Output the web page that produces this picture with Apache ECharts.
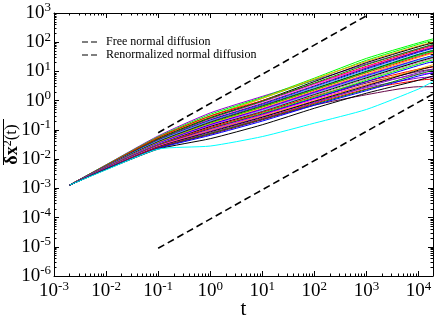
<!DOCTYPE html>
<html><head><meta charset="utf-8">
<script src="https://cdn.jsdelivr.net/npm/echarts@6/dist/echarts.min.js"></script>
<style>html,body{margin:0;padding:0;background:#fff}#c{width:436px;height:315px}</style>
</head><body><div id="c"></div>
<script>
// time points (x) shared by all trajectories
const times = [0.002, 0.01, 0.1, 1, 10, 100, 1000, 10000, 19000];
// mean squared displacement of each trajectory at those times
const traj01 = [0.0013, 0.0064, 0.062, 0.38, 1.4, 5.0, 18, 60, 80];
const traj02 = [0.0013, 0.0063, 0.058, 0.34, 1.3, 5.9, 28, 95, 130];
const traj03 = [0.0013, 0.0062, 0.055, 0.30, 1.2, 5.2, 24, 85, 115];
const traj04 = [0.0013, 0.0061, 0.052, 0.28, 1.2, 5.5, 22, 75, 100];
const traj05 = [0.0013, 0.0060, 0.050, 0.26, 1.0, 4.5, 20, 70, 95];
const traj06 = [0.0013, 0.0061, 0.055, 0.30, 1.0, 3.8, 15, 55, 75];
const traj07 = [0.0013, 0.0059, 0.047, 0.24, 0.9, 3.6, 14, 50, 70];
const traj08 = [0.0013, 0.0059, 0.048, 0.25, 0.95, 4.0, 17, 60, 85];
const traj09 = [0.0013, 0.0058, 0.045, 0.22, 0.8, 3.2, 13, 48, 65];
const traj10 = [0.0013, 0.0057, 0.043, 0.21, 0.75, 3.0, 12, 45, 62];
const traj11 = [0.0013, 0.0057, 0.042, 0.20, 0.7, 2.8, 11, 40, 55];
const traj12 = [0.0013, 0.0056, 0.040, 0.19, 0.7, 2.6, 10, 35, 48];
const traj13 = [0.0013, 0.0056, 0.039, 0.18, 0.65, 2.5, 10, 38, 52];
const traj14 = [0.0013, 0.0055, 0.037, 0.17, 0.6, 2.3, 9, 32, 45];
const traj15 = [0.0013, 0.0055, 0.037, 0.17, 0.62, 2.4, 9.5, 36, 50];
const traj16 = [0.0013, 0.0054, 0.036, 0.16, 0.55, 2.1, 8, 30, 42];
const traj17 = [0.0013, 0.0054, 0.035, 0.15, 0.52, 2.0, 7.5, 26, 34];
const traj18 = [0.0013, 0.0053, 0.034, 0.15, 0.5, 1.9, 7, 25, 35];
const traj19 = [0.0013, 0.0053, 0.033, 0.14, 0.48, 1.8, 6.5, 22, 30];
const traj20 = [0.0013, 0.0052, 0.032, 0.13, 0.45, 1.7, 6.5, 24, 33];
const traj21 = [0.0013, 0.0052, 0.031, 0.13, 0.42, 1.6, 6, 22, 30];
const traj22 = [0.0013, 0.0051, 0.030, 0.12, 0.40, 1.5, 5.5, 20, 28];
const traj23 = [0.0013, 0.0051, 0.030, 0.12, 0.40, 1.4, 4.5, 12, 14];
const traj24 = [0.0013, 0.0050, 0.029, 0.11, 0.37, 1.3, 5, 18, 25];
const traj25 = [0.0013, 0.0050, 0.029, 0.11, 0.35, 1.2, 4, 10, 12];
const traj26 = [0.0013, 0.0049, 0.028, 0.10, 0.33, 1.2, 4.5, 16, 22];
const traj27 = [0.0013, 0.0049, 0.028, 0.10, 0.32, 1.1, 3.5, 8, 9];
const traj28 = [0.0013, 0.0048, 0.027, 0.095, 0.30, 1.0, 3.5, 12, 17];
const traj29 = [0.0013, 0.0048, 0.026, 0.09, 0.28, 0.9, 2.8, 6, 6.5];
const traj30 = [0.0013, 0.0047, 0.026, 0.085, 0.27, 0.95, 3.2, 11, 15];
const traj31 = [0.0013, 0.0047, 0.025, 0.08, 0.25, 0.85, 3, 9, 12];
const traj32 = [0.0013, 0.0046, 0.025, 0.075, 0.24, 0.8, 2.5, 5, 5.5];
const traj33 = [0.0013, 0.0046, 0.024, 0.075, 0.23, 0.75, 2.4, 8, 11];
const traj34 = [0.0013, 0.0045, 0.024, 0.07, 0.22, 0.7, 1.6, 3, 3];
const traj35 = [0.0013, 0.0045, 0.023, 0.065, 0.2, 0.7, 2.2, 7, 9];
const traj36 = [0.0013, 0.0044, 0.022, 0.05, 0.15, 0.55, 1.8, 5, 7];
const traj37 = [0.0013, 0.0043, 0.022, 0.028, 0.059, 0.17, 0.5, 2.5, 4.5];
const trajectories = [traj01, traj02, traj03, traj04, traj05, traj06, traj07, traj08, traj09, traj10,
  traj11, traj12, traj13, traj14, traj15, traj16, traj17, traj18, traj19, traj20,
  traj21, traj22, traj23, traj24, traj25, traj26, traj27, traj28, traj29, traj30,
  traj31, traj32, traj33, traj34, traj35, traj36, traj37];
// reference lines
const freeTimes = [0.1, 1000];
const freeValues = [0.08, 800];
const renormTimes = [0.1, 19000];
const renormValues = [0.0000089, 1.69];
const legendNames = ['Free normal diffusion', 'Renormalized normal diffusion'];
// axis ticks
const xMajorTicks = [1e-3, 1e-2, 1e-1, 1, 10, 100, 1000, 10000];
const yMajorTicks = [1e-6, 1e-5, 1e-4, 1e-3, 1e-2, 1e-1, 1, 10, 100, 1000];

// styles
const lineColors = ['#9400d3', '#00ff00', '#00ff00', '#ffa500', '#000000', '#ff0000', '#ff00ff', '#008b00', '#670748', '#0000ff',
  '#40e0d0', '#7221bc', '#000000', '#ff0000', '#00ff00', '#ffa500', '#9400d3', '#0000ff', '#ff00ff', '#40e0d0',
  '#000000', '#bc8f8f', '#ff0000', '#00ff00', '#670748', '#0000ff', '#ff00ff', '#ffa500', '#9400d3', '#000000',
  '#7221bc', '#ff0000', '#008b00', '#670748', '#0000ff', '#000000', '#00ffff'];
const FONT = '"Liberation Serif", "DejaVu Serif", serif';
const DASH_ICON = 'path://M0 0H6V1H0Z M9 0H15V1H9Z';
function minorOf(majors, max) {
  const out = [];
  majors.forEach(m => { for (let k = 2; k <= 9; k++) { const v = m * k; if (v <= max) out.push(v); } });
  return out;
}
const X_MIN = 1e-3, X_MAX = 19000, Y_MIN = 1e-6, Y_MAX = 1e3;
const xMinorTicks = minorOf(xMajorTicks, X_MAX);
const yMinorTicks = minorOf(yMajorTicks.slice(0, -1), Y_MAX);
function powLabel(v) { const e = Math.round(Math.log10(v)); return '{b|10}{s|' + e + '}'; }
const labelRich = {
  b: { fontSize: 19, fontFamily: FONT, color: '#000' },
  s: { fontSize: 13, fontFamily: FONT, color: '#000', padding: [0, 0, 10, 0] }
};
function xAxisCfg(pos, major, withLabels) {
  return {
    type: 'log', logBase: 10, min: X_MIN, max: X_MAX, position: pos,
    axisLine: { show: major, lineStyle: { color: '#000', width: 1 } },
    axisTick: { show: true, inside: true, length: major ? 5 : 2.5, lineStyle: { color: '#000', width: 1 },
      customValues: major ? xMajorTicks : xMinorTicks },
    axisLabel: withLabels ? { show: true, customValues: xMajorTicks, formatter: powLabel, rich: labelRich, margin: 4 } : { show: false },
    splitLine: { show: false }, minorTick: { show: false },
    name: withLabels ? 't' : '', nameLocation: 'middle', nameGap: 23, nameMoveOverlap: false,
    nameTextStyle: { fontSize: 21, fontFamily: FONT, color: '#000' }
  };
}
function yAxisCfg(pos, major, withLabels) {
  return {
    type: 'log', logBase: 10, min: Y_MIN, max: Y_MAX, position: pos,
    axisLine: { show: major, lineStyle: { color: '#000', width: 1 } },
    axisTick: { show: true, inside: true, length: major ? 5 : 2.5, lineStyle: { color: '#000', width: 1 },
      customValues: major ? yMajorTicks : yMinorTicks },
    axisLabel: withLabels ? { show: true, customValues: yMajorTicks, formatter: powLabel, rich: labelRich, margin: 3 } : { show: false },
    splitLine: { show: false }, minorTick: { show: false },
    name: withLabels ? '{d|δx}{s|2}{p|(t)}' : '', nameLocation: 'middle', nameGap: 32, nameRotate: 90, nameMoveOverlap: false,
    nameTextStyle: { rich: {
      d: { fontSize: 18, fontWeight: 'bold', fontFamily: FONT, color: '#000' },
      s: { fontSize: 12, fontFamily: FONT, color: '#000', padding: [0, 0, 8, 0] },
      p: { fontSize: 17, fontFamily: FONT, color: '#000' } } }
  };
}
const series = trajectories.map((vals, i) => ({
  name: 'traj' + (i + 1), type: 'line', xAxisIndex: 0, yAxisIndex: 0,
  data: times.map((t, j) => [t, vals[j]]),
  showSymbol: false, symbol: 'none', smooth: 0.2, silent: true,
  lineStyle: { color: lineColors[i], width: 1 }, itemStyle: { color: lineColors[i] }
}));
series.push({
  name: legendNames[0], type: 'line', data: freeTimes.map((t, j) => [t, freeValues[j]]),
  showSymbol: false, symbol: 'none', silent: true, z: 3,
  lineStyle: { color: '#000', width: 1.6, type: [7, 4] }, itemStyle: { color: '#000' }
});
series.push({
  name: legendNames[1], type: 'line', data: renormTimes.map((t, j) => [t, renormValues[j]]),
  showSymbol: false, symbol: 'none', silent: true, z: 3,
  lineStyle: { color: '#000', width: 1.6, type: [7, 4] }, itemStyle: { color: '#000' }
});
const chart = echarts.init(document.getElementById('c'), null, { renderer: 'canvas' });
chart.setOption({
  animation: false,
  backgroundColor: '#fff',
  grid: { left: 54, right: 3, top: 13, bottom: 39, containLabel: false, outerBoundsMode: 'none' },
  legend: {
    data: legendNames.map(n => ({ name: n, icon: DASH_ICON })),
    orient: 'vertical', left: 77, top: 31, itemWidth: 15, itemHeight: 1.4, itemGap: 1,
    itemStyle: { color: '#000', borderWidth: 0 },
    textStyle: { fontSize: 12, fontFamily: FONT, color: '#000', padding: [0, 0, 0, 4] }
  },
  xAxis: [xAxisCfg('bottom', true, true), xAxisCfg('bottom', false, false), xAxisCfg('top', true, false), xAxisCfg('top', false, false)],
  yAxis: [yAxisCfg('left', true, true), yAxisCfg('left', false, false), yAxisCfg('right', true, false), yAxisCfg('right', false, false)],
  graphic: [{ type: 'line', shape: { x1: 3.5, y1: 119, x2: 3.5, y2: 165 }, style: { stroke: '#000', lineWidth: 1 } }],
  series: series
});
</script></body></html>
